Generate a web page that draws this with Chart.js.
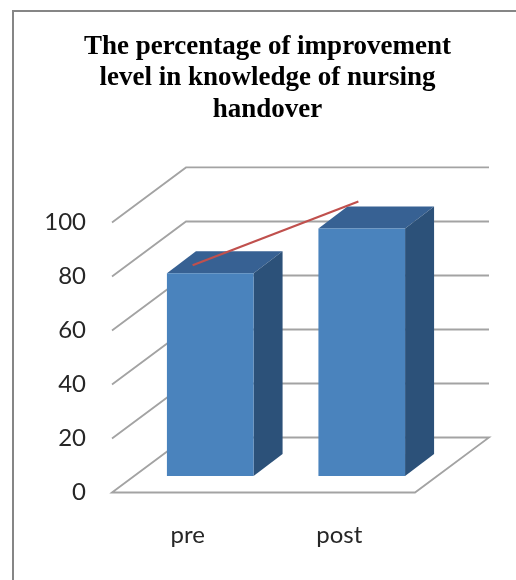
<!DOCTYPE html>
<html>
<head>
<meta charset="utf-8">
<title>Nursing handover knowledge</title>
<script src="https://cdn.jsdelivr.net/npm/chart.js@4"></script>
<style>
  html, body { margin: 0; padding: 0; background: #fff; overflow: hidden; }
  #frame { position: absolute; left: 12px; top: 10px; right: 0; bottom: 0; border-left: 2px solid #868686; border-top: 2px solid #868686; }
  canvas { position: absolute; left: 0; top: 0; }
</style>
</head>
<body>
<div id="frame"></div>
<canvas id="chart" width="516" height="580"></canvas>
<script>
const categories = ['pre', 'post'];
const categoryPositions = [0.5, 1.5];
const barValues = [75.1, 91.7];
const linePositions = [0.288, 1.382];
const lineValues = [74, 97.6];
const yTicks = [0, 20, 40, 60, 80, 100];

// fake 3d: how far the back wall sits from the axis, and the bar's own depth
const wallDx = 74, wallDy = -55;
const barDepthX = 29, barDepthY = -22;
const barShiftX = (wallDx - barDepthX) / 2, barShiftY = (wallDy - barDepthY) / 2;

const depth3d = {
  id: 'depth3d',
  beforeDatasetsDraw(chart) {
    const { ctx, chartArea } = chart;
    const y = chart.scales.y;
    const left = chartArea.left, right = chartArea.right;
    ctx.save();
    ctx.strokeStyle = '#a3a3a3';
    ctx.lineWidth = 1.8;
    yTicks.forEach(function (v) {
      const py = y.getPixelForValue(v);
      ctx.beginPath();
      ctx.moveTo(left, py);
      ctx.lineTo(left + wallDx, py + wallDy);
      ctx.lineTo(right + wallDx, py + wallDy);
      if (v === 0) {
        ctx.lineTo(right, py);
        ctx.closePath();
      }
      ctx.stroke();
    });
    ctx.restore();
  },
  beforeDatasetDraw(chart, args) {
    const { ctx } = chart;
    ctx.save();
    if (args.index === 1) {
      // the line runs through the middle of the bars' depth
      ctx.translate(barShiftX + barDepthX / 2, barShiftY + barDepthY / 2);
      return;
    }
    ctx.translate(barShiftX, barShiftY);
    args.meta.data.forEach(function (bar) {
      const l = bar.x - bar.width / 2, r = bar.x + bar.width / 2;
      ctx.fillStyle = '#376193';
      ctx.beginPath();
      ctx.moveTo(l, bar.y);
      ctx.lineTo(l + barDepthX, bar.y + barDepthY);
      ctx.lineTo(r + barDepthX, bar.y + barDepthY);
      ctx.lineTo(r, bar.y);
      ctx.closePath();
      ctx.fill();
      ctx.fillStyle = '#2c5179';
      ctx.beginPath();
      ctx.moveTo(r, bar.y);
      ctx.lineTo(r + barDepthX, bar.y + barDepthY);
      ctx.lineTo(r + barDepthX, bar.base + barDepthY);
      ctx.lineTo(r, bar.base);
      ctx.closePath();
      ctx.fill();
    });
  },
  afterDatasetDraw(chart) {
    chart.ctx.restore();
  }
};

new Chart(document.getElementById('chart').getContext('2d'), {
  type: 'bar',
  data: {
    datasets: [
      {
        data: categoryPositions.map(function (p, i) { return { x: p, y: barValues[i] }; }),
        backgroundColor: '#4a83bd',
        borderWidth: 0,
        barPercentage: 0.572,
        categoryPercentage: 1,
        clip: false,
        order: 2
      },
      {
        type: 'line',
        data: linePositions.map(function (p, i) { return { x: p, y: lineValues[i] }; }),
        borderColor: '#c0504d',
        borderWidth: 2.2,
        pointRadius: 0,
        tension: 0,
        clip: false,
        order: 1
      }
    ]
  },
  options: {
    responsive: false,
    animation: false,
    layout: { padding: { left: 19, right: 0, top: 0, bottom: 0 } },
    plugins: {
      legend: { display: false },
      tooltip: { enabled: false },
      title: {
        display: true,
        text: ['The percentage of improvement', 'level in knowledge of nursing', 'handover'],
        color: '#000',
        font: { family: '"Liberation Serif"', size: 27, weight: 'bold', lineHeight: 1.17 },
        padding: { top: 31, bottom: 96.7 }
      }
    },
    scales: {
      // linear so the red line can sit between the category centres; labels come from categories
      x: {
        type: 'linear',
        offset: false,
        min: 0,
        max: 2,
        grid: { display: false, drawTicks: false },
        border: { display: false },
        afterBuildTicks(scale) {
          scale.ticks = categoryPositions.map(function (p) { return { value: p }; });
        },
        ticks: {
          color: '#262626',
          font: { family: 'Lato', size: 24 },
          padding: 28,
          maxRotation: 0,
          autoSkip: false,
          callback(value) { return categories[categoryPositions.indexOf(value)]; }
        },
        afterFit(scale) { scale.height = 87.5; }
      },
      y: {
        min: 0,
        max: 100,
        grid: { display: false, drawTicks: false },
        border: { display: false },
        ticks: { stepSize: 20, color: '#262626', font: { family: 'Lato', size: 24 }, padding: 26 },
        afterFit(scale) { scale.width = 93; }
      },
      // empty axis, only holds the space right of the plot so the title centres where it should
      spacer: {
        position: 'right',
        grid: { display: false, drawTicks: false },
        border: { display: false },
        ticks: { display: false },
        afterFit(scale) { scale.width = 101; }
      }
    }
  },
  plugins: [depth3d]
});
</script>
</body>
</html>
